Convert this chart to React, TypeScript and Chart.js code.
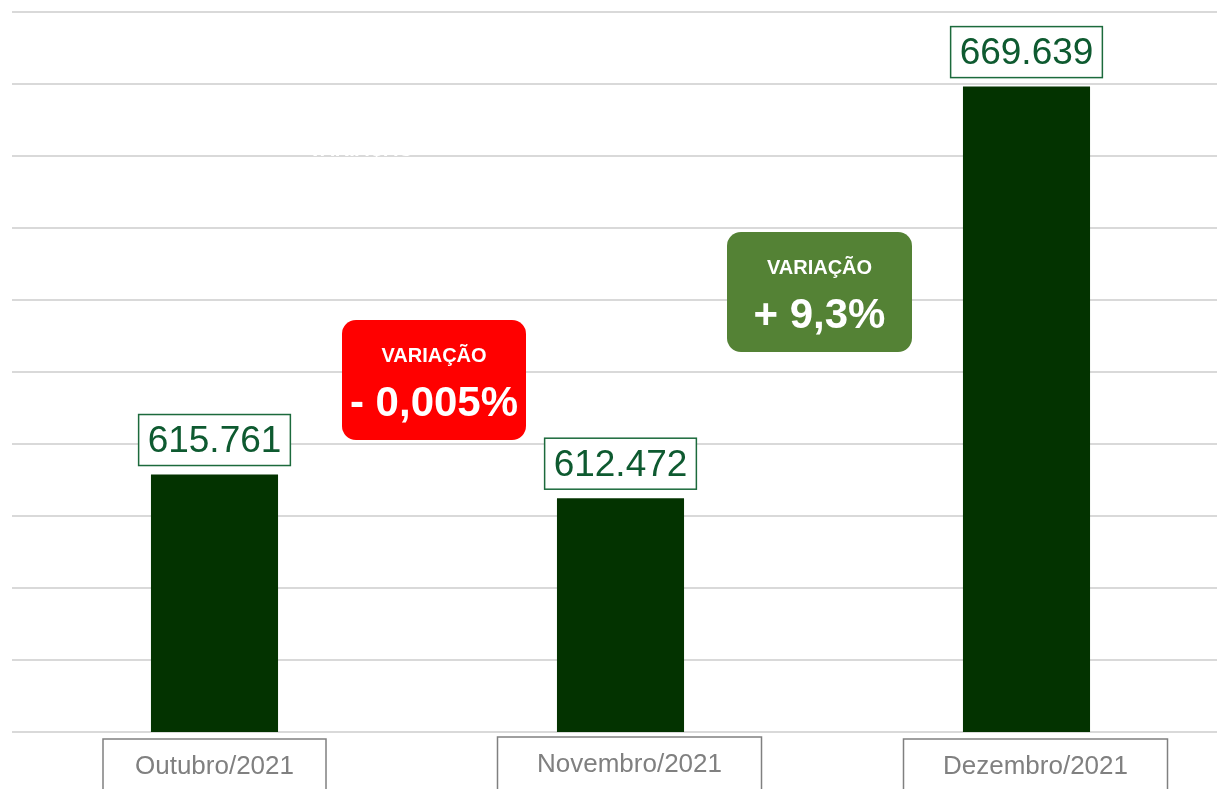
import React, { useEffect, useRef } from "react";
import { Chart, registerables } from "chart.js";

Chart.register(...registerables);

const categories = ["Outubro/2021", "Novembro/2021", "Dezembro/2021"];
const values = [615.761, 612.472, 669.639];
const valueLabels = ["615.761", "612.472", "669.639"];
const badgeTitles = ["VARIAÇÃO", "VARIAÇÃO"];
const badgeValues = ["- 0,005%", "+ 9,3%"];

const FONT = '"Liberation Sans", Arial, sans-serif';

// layout of the category boxes (pixel offsets relative to bar centre, box widths, box tops)
const CAT_OFFSETS = [0, 9, 9];
const CAT_WIDTHS = [223, 264, 264];
const CAT_TOPS = [739, 737, 739];

const decorPlugin = {
  id: "decor",
  afterDatasetsDraw(chart: any) {
    const ctx = chart.ctx as CanvasRenderingContext2D;
    const meta = chart.getDatasetMeta(0);
    ctx.save();
    // faint white hidden text
    ctx.fillStyle = "#ffffff";
    ctx.font = `bold 20px ${FONT}`;
    ctx.textAlign = "center";
    ctx.textBaseline = "middle";
    ctx.fillText(badgeTitles[0], 361, 150);

    // value labels
    meta.data.forEach((bar: any, i: number) => {
      ctx.font = `37px ${FONT}`;
      const tw = ctx.measureText(valueLabels[i]).width;
      const w = tw + 18;
      const h = 51;
      const bottom = bar.y - 9;
      const left = bar.x - w / 2;
      ctx.fillStyle = "#ffffff";
      ctx.fillRect(left, bottom - h, w, h);
      ctx.strokeStyle = "#1c6a3c";
      ctx.lineWidth = 1.5;
      ctx.strokeRect(left, bottom - h, w, h);
      ctx.fillStyle = "#0e5a30";
      ctx.textAlign = "center";
      ctx.textBaseline = "middle";
      ctx.fillText(valueLabels[i], bar.x, bottom - h / 2 + 2);
    });

    // category label boxes
    meta.data.forEach((bar: any, i: number) => {
      ctx.font = `26px ${FONT}`;
      const cx = bar.x + CAT_OFFSETS[i];
      const w = CAT_WIDTHS[i];
      const top = CAT_TOPS[i];
      const left = cx - w / 2;
      ctx.strokeStyle = "#808080";
      ctx.lineWidth = 1.5;
      ctx.strokeRect(left, top, w, 70);
      ctx.fillStyle = "#808080";
      ctx.textAlign = "center";
      ctx.textBaseline = "middle";
      ctx.fillText(categories[i], cx, top + 28);
    });

    // variation badges
    const badges = [
      { x: 342, y: 320, w: 184, h: 120, color: "#ff0000" },
      { x: 727, y: 232, w: 185, h: 120, color: "#548235" },
    ];
    badges.forEach((b, i) => {
      ctx.fillStyle = b.color;
      ctx.beginPath();
      (ctx as any).roundRect(b.x, b.y, b.w, b.h, 14);
      ctx.fill();
      ctx.fillStyle = "#ffffff";
      ctx.textAlign = "center";
      ctx.textBaseline = "middle";
      ctx.font = `bold 20px ${FONT}`;
      ctx.fillText(badgeTitles[i], b.x + b.w / 2, b.y + 36);
      ctx.font = `bold 42px ${FONT}`;
      ctx.fillText(badgeValues[i], b.x + b.w / 2, b.y + 84);
    });
    ctx.restore();
  },
};

export default function App() {
  const canvasRef = useRef<HTMLCanvasElement | null>(null);

  useEffect(() => {
    if (!canvasRef.current) return;
    const chart = new Chart(canvasRef.current, {
      type: "bar",
      data: {
        labels: categories,
        datasets: [
          {
            data: values,
            backgroundColor: "#033300",
            borderWidth: 0,
            categoryPercentage: 1,
            barPercentage: 0.313,
          },
        ],
      },
      options: {
        animation: false,
        responsive: false,
        maintainAspectRatio: false,
        layout: { padding: { left: 11.5, right: 10.5, top: 12, bottom: 57 } },
        plugins: {
          legend: { display: false },
          tooltip: { enabled: false },
          title: { display: false },
        },
        scales: {
          x: { display: false },
          y: {
            min: 580,
            max: 680,
            ticks: { display: false, stepSize: 10 },
            border: { display: false },
            grid: { color: "#d9d9d9", lineWidth: 2, drawTicks: false },
            afterFit: (s: any) => {
              s.width = 0;
            },
          },
        },
      },
      plugins: [decorPlugin],
    });
    return () => chart.destroy();
  }, []);

  return (
    <div
      style={{
        position: "fixed",
        left: 0,
        top: 0,
        width: 1217,
        height: 789,
        overflow: "hidden",
        background: "#ffffff",
      }}
    >
      <canvas ref={canvasRef} width={1240} height={789} style={{ display: "block" }} />
    </div>
  );
}
